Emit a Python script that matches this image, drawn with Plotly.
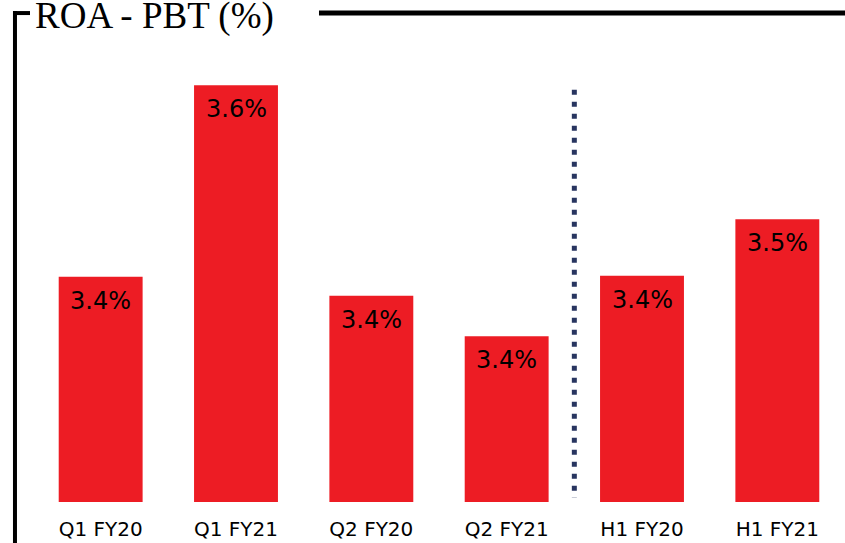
import plotly.graph_objs as go

periods = ['Q1 FY20', 'Q1 FY21', 'Q2 FY20', 'Q2 FY21', 'H1 FY20', 'H1 FY21']
roa_pbt = [3.427, 3.62, 3.408, 3.367, 3.428, 3.485]
bar_labels = ['3.4%', '3.6%', '3.4%', '3.4%', '3.4%', '3.5%']

red = '#ED1C24'
navy = '#283560'

data = [go.Bar(x=list(range(len(periods))),
               y=roa_pbt,
               marker=dict(color=red, line=dict(width=0)),
               hoverinfo='skip')]

# value labels sit just inside the top of each bar
annotations = [dict(x=i, y=v, text=t, xref='x', yref='y',
                    yanchor='top', yshift=-8, showarrow=False,
                    font=dict(family='DejaVu Sans', size=24, color='black'))
               for i, (v, t) in enumerate(zip(roa_pbt, bar_labels))]

annotations.append(dict(x=0, y=1.0, xref='paper', yref='paper',
                        xanchor='left', yanchor='bottom', yshift=-39,
                        text='ROA - PBT (%)', showarrow=False,
                        font=dict(family='Liberation Serif', size=37, color='black')))

shapes = [
    # frame around the title
    dict(type='line', xref='paper', yref='paper', x0=-0.0222, x1=-0.0222,
         y0=0.978, y1=-0.09, line=dict(color='black', width=4)),
    dict(type='line', xref='paper', yref='paper', x0=-0.0246, x1=-0.0037,
         y0=0.974, y1=0.974, line=dict(color='black', width=4)),
    dict(type='line', xref='paper', yref='paper', x0=0.3522, x1=1.0,
         y0=0.974, y1=0.974, line=dict(color='black', width=5)),
    # quarter / half-year divider
    dict(type='line', xref='x', yref='paper', x0=3.5, x1=3.5,
         y0=0.821, y1=0.008, line=dict(color=navy, width=5, dash='5px,7px')),
]

layout = go.Layout(width=845, height=543,
                   margin=dict(l=33, r=0, t=0, b=41),
                   paper_bgcolor='white', plot_bgcolor='white',
                   bargap=0.38, showlegend=False,
                   xaxis=dict(tickmode='array', tickvals=list(range(len(periods))),
                              ticktext=periods, range=[-0.5, 5.5],
                              showgrid=False, zeroline=False, showline=False,
                              ticks='', ticklabelstandoff=13,
                              tickfont=dict(family='DejaVu Sans', size=20, color='black')),
                   yaxis=dict(range=[3.2, 3.706], visible=False, showgrid=False),
                   annotations=annotations, shapes=shapes)

fig = go.Figure(data, layout)
# drop the page's default body margin so the figure sits at the window corner
fig.write_html('out.html', config={'displayModeBar': False},
               post_script="document.body.style.margin='0';")
